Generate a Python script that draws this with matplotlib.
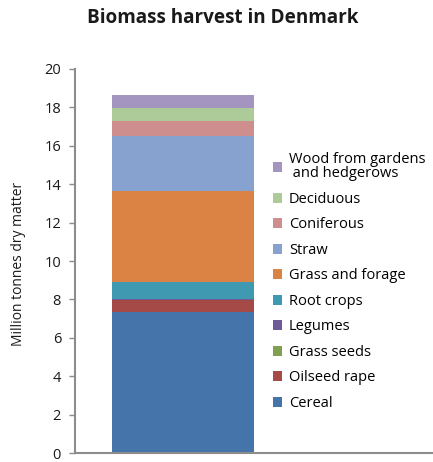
import matplotlib
matplotlib.use("Agg")
import matplotlib.pyplot as plt
from matplotlib.patches import Patch

plt.rcParams["font.family"] = ["Open Sans", "DejaVu Sans"]

# bottom-to-top stacking order
CATEGORIES = ["Cereal", "Oilseed rape", "Grass seeds", "Legumes", "Root crops",
              "Grass and forage", "Straw", "Coniferous", "Deciduous",
              "Wood from gardens\n and hedgerows"]
VALUES = [7.36, 0.60, 0.03, 0.01, 0.92, 4.74, 2.85, 0.76, 0.67, 0.72]
COLORS = ["#4474AA", "#A64A48", "#80A04F", "#6E5A96", "#3F99B0",
          "#DA8344", "#87A2CF", "#CE8E8D", "#ADCB98", "#A395C0"]
YTICKS = list(range(0, 21, 2))

fig = plt.figure(figsize=(4.33, 4.62), dpi=100)
ax = fig.add_axes([0.1732, 0.019, 0.8268, 0.832])

bottom = 0.0
handles = []
for name, val, col in zip(CATEGORIES, VALUES, COLORS):
    ax.bar(0, val, width=0.6, bottom=bottom, color=col, linewidth=0)
    bottom += val
    handles.append(Patch(facecolor=col, edgecolor="none", label=name))

ax.set_xlim(-0.456, 1.056)
ax.set_ylim(0, 20)
ax.set_yticks(YTICKS)
ax.set_xticks([])
ax.tick_params(axis="y", direction="out", length=4, width=1, color="#8c8c8c",
               labelsize=10.5, pad=6, labelcolor="#1a1a1a")
for side in ["top", "right"]:
    ax.spines[side].set_visible(False)
for side in ["left", "bottom"]:
    ax.spines[side].set_color("#8c8c8c")
    ax.spines[side].set_linewidth(1.5)

fig.text(0.042, 0.4286, "Million tonnes dry matter", rotation=90,
         ha="center", va="center", fontsize=10, color="#1a1a1a")
fig.text(0.514, 0.962, "Biomass harvest in Denmark", ha="center", va="center",
         fontsize=13.6, fontweight="bold", color="#1a1a1a")

leg = ax.legend(handles=handles[::-1], loc="upper left",
                bbox_to_anchor=(0.630, 0.670), bbox_transform=fig.transFigure,
                frameon=False, fontsize=10.5, handlelength=0.65,
                handleheight=0.65, handletextpad=0.45, labelspacing=0.72,
                borderpad=0, borderaxespad=0)
leg.get_texts()[0].set_linespacing(0.9)

fig.savefig("out.png", dpi=100)
